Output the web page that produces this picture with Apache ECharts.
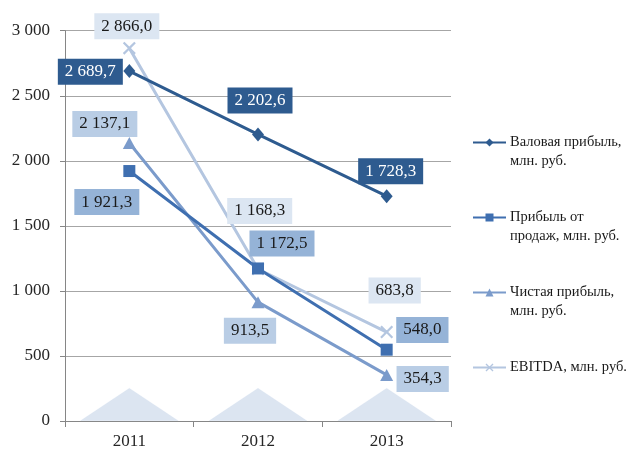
<!DOCTYPE html>
<html>
<head>
<meta charset="utf-8">
<script src="https://cdn.jsdelivr.net/npm/echarts@6/dist/echarts.min.js"></script>
<style>html,body{margin:0;padding:0;background:#fff}#c{width:635px;height:452px}</style>
</head>
<body>
<div id="c"></div>
<script>
const categories = ['2011', '2012', '2013'];
const seriesNames = ['Валовая прибыль, млн. руб.', 'Прибыль от продаж, млн. руб.', 'Чистая прибыль, млн. руб.', 'EBITDA, млн. руб.'];
const grossProfit = [2689.7, 2202.6, 1728.3];
const salesProfit = [1921.3, 1172.5, 548.0];
const netProfit = [2137.1, 913.5, 354.3];
const ebitda = [2866.0, 1168.3, 683.8];
const decorTriangles = [250, 250, 250];
const yMin = 0, yMax = 3000, yStep = 500;

const FONT = 'Liberation Serif';
function fmtNum(v, dec) {
  const s = v.toFixed(dec);
  const parts = s.split('.');
  parts[0] = parts[0].replace(/\B(?=(\d{3})+(?!\d))/g, ' ');
  return parts.join(',');
}
const legendText = {
  'Валовая прибыль, млн. руб.': '\nВаловая прибыль,\nмлн. руб.',
  'Прибыль от продаж, млн. руб.': '\nПрибыль от\nпродаж, млн. руб.',
  'Чистая прибыль, млн. руб.': '\nЧистая прибыль,\nмлн. руб.',
  'EBITDA, млн. руб.': '\nEBITDA, млн. руб.\n '
};

function makeSeries(name, values, color, symbol, symbolSize, boxColor, textColor, offsets) {
  return {
    name: name,
    type: 'line',
    data: values.map((v, i) => ({
      value: v,
      label: { offset: offsets[i] }
    })),
    symbol: symbol,
    symbolSize: symbolSize,
    showAllSymbol: true,
    lineStyle: { color: color, width: 3 },
    itemStyle: { color: color, borderWidth: 0 },
    z: 3,
    label: {
      show: true,
      position: 'inside',
      formatter: p => fmtNum(p.value, 1),
      fontFamily: FONT,
      fontSize: 17,
      lineHeight: 18,
      color: textColor,
      backgroundColor: boxColor,
      padding: [4, 7, 4, 7]
    },
    emphasis: { disabled: true },
    animation: false
  };
}

const xPath = 'path://M0,1.2L1.2,0L5,3.8L8.8,0L10,1.2L6.2,5L10,8.8L8.8,10L5,6.2L1.2,10L0,8.8L3.8,5Z';

const option = {
  animation: false,
  grid: { left: 65, right: 184, top: 30.7, bottom: 31, containLabel: false },
  legend: {
    data: seriesNames,
    orient: 'vertical',
    left: 472,
    top: 114,
    padding: 0,
    itemGap: 18,
    itemWidth: 33,
    itemHeight: 10,
    formatter: n => legendText[n],
    textStyle: { fontFamily: FONT, fontSize: 14.5, lineHeight: 19, color: '#1a1a1a', padding: [0, 0, 0, -1] },
    selectedMode: false
  },
  xAxis: {
    type: 'category',
    data: categories,
    boundaryGap: true,
    axisLine: { lineStyle: { color: '#868686', width: 1 } },
    axisTick: { show: true, length: 6, lineStyle: { color: '#868686' } },
    axisLabel: { fontFamily: FONT, fontSize: 17, color: '#262626', margin: 12 }
  },
  yAxis: {
    type: 'value',
    min: yMin, max: yMax, interval: yStep,
    axisLine: { show: true, lineStyle: { color: '#868686', width: 1 } },
    axisTick: { show: true, length: 5, lineStyle: { color: '#868686' } },
    splitLine: { lineStyle: { color: '#a6a6a6', width: 1 } },
    axisLabel: { fontFamily: FONT, fontSize: 17, color: '#262626', margin: 15, formatter: v => fmtNum(v, 0) }
  },
  series: [
    {
      type: 'pictorialBar',
      name: 'decor',
      data: decorTriangles,
      symbol: 'triangle',
      symbolSize: ['100%', '100%'],
      barWidth: '76%',
      itemStyle: { color: '#dce5f1', borderColor: '#c9d7ec', borderWidth: 1 },
      silent: true,
      z: 1,
      animation: false
    },
    makeSeries(seriesNames[3], ebitda, '#b4c6e0', xPath, 13, '#dce6f2', '#1a1a1a', [[-2.5, -22], [1.7, -58], [8, -41.5]]),
    makeSeries(seriesNames[2], netProfit, '#7b9bcb', 'triangle', [13, 12], '#b9cde5', '#1a1a1a', [[-24.5, -19], [-8, 28.7], [36, 4]]),
    makeSeries(seriesNames[1], salesProfit, '#3f6fb0', 'rect', 12, '#95b3d7', '#1a1a1a', [[-22.5, 31], [24, -25], [35.7, -19.8]]),
    makeSeries(seriesNames[0], grossProfit, '#2e5b8f', 'diamond', [12, 14], '#2e5b8f', '#ffffff', [[-39, 0.7], [2, -34], [4, -25]])
  ]
};

const chart = echarts.init(document.getElementById('c'), null, { renderer: 'canvas' });
chart.setOption(option);
</script>
</body>
</html>
